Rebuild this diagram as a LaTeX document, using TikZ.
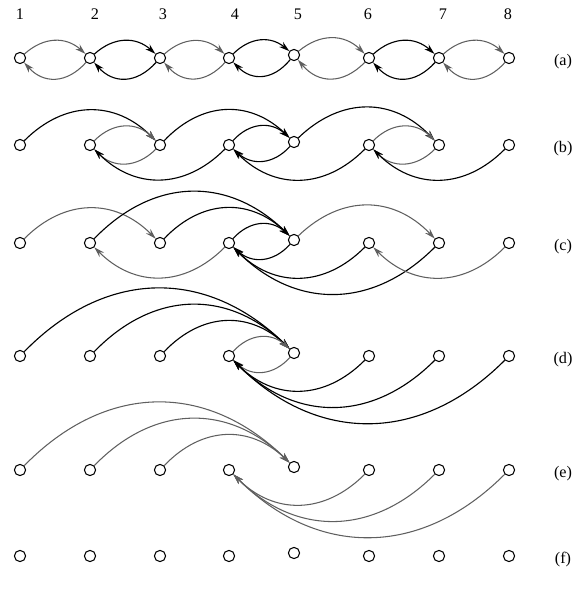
\documentclass[tikz,border=0pt]{standalone}
\usepackage{fontspec}
\setmainfont{Liberation Serif}
\usetikzlibrary{arrows.meta}
\definecolor{hopGray}{HTML}{5F5F5F}
\tikzset{
    dot/.style={draw=black, circle, line width=0.75pt, inner sep=0pt, minimum size=0.28cm},
    blk/.style={draw=black, line width=0.8pt, -{Stealth[length=7.5pt, width=4.5pt]}},
    gry/.style={draw=hopGray, line width=0.75pt, -{Stealth[length=7.5pt, width=4.5pt]}},
    hop/.style={bend left=45, looseness=1.12},
    rowlab/.style={font=\fontsize{11.5pt}{13pt}\selectfont}
}
\begin{document}
\begin{tikzpicture}[x=0.025cm, y=-0.025cm]
    \useasboundingbox (0,0) rectangle (585,592);
    \foreach \i/\x in {1/20,2/95,3/163,4/235,5/298,6/368,7/443,8/508}{
        \node[rowlab] (top\i) at (\x,14) {\i};
    }
    \foreach \r/\y in {a/58,b/145,c/243,d/356,e/470,f/556}{
        \foreach \i/\x/\dy in {1/20/0,2/90/0,3/160/0,4/229/0,5/294/-3,6/369/0,7/439/0,8/509/0}{
            \node[dot] (\r\i) at (\x,\y+\dy) {};
        }
        \node[rowlab] (lab\r) at (563,\y+4) {(\r)};
    }
    \foreach \i/\j/\s in {1/2/gry,2/3/blk,3/4/gry,4/5/blk,5/6/gry,6/7/blk,7/8/gry}{
        \draw[\s] (a\i) to[bend left=42, looseness=1.1] (a\j);
        \draw[\s] (a\j) to[bend left=48, looseness=1.2] (a\i);
    }
    \foreach \i/\j/\s in {1/3/blk,2/3/gry,3/5/blk,4/5/blk,5/7/blk,6/7/gry,
                          3/2/gry,4/2/blk,5/4/blk,6/4/blk,7/6/gry,8/6/blk}{
        \draw[\s] (b\i) to[hop] (b\j);
    }
    \foreach \i/\j/\s in {1/3/gry,2/5/blk,3/5/blk,4/5/blk,5/7/gry,
                          4/2/gry,5/4/blk,6/4/blk,7/4/blk,8/6/gry}{
        \draw[\s] (c\i) to[hop] (c\j);
    }
    \foreach \i/\j/\s in {1/5/blk,2/5/blk,3/5/blk,4/5/gry,
                          5/4/gry,6/4/blk,7/4/blk,8/4/blk}{
        \draw[\s] (d\i) to[hop] (d\j);
    }
    \foreach \i/\j in {1/5,2/5,3/5,6/4,7/4,8/4}{
        \draw[gry] (e\i) to[hop] (e\j);
    }
\end{tikzpicture}
\end{document}
